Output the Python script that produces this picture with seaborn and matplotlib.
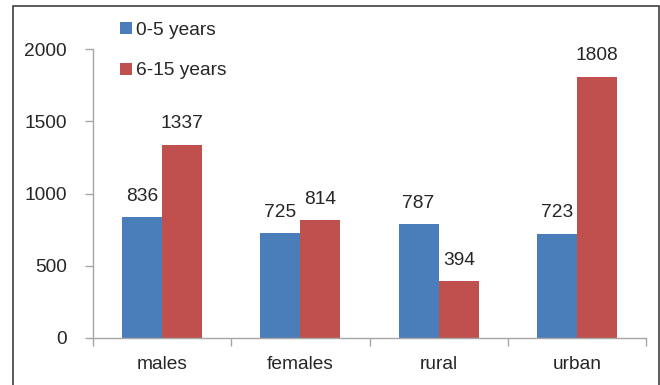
import matplotlib
matplotlib.use("Agg")
import matplotlib.pyplot as plt
from matplotlib.patches import Rectangle
from matplotlib.ticker import FixedLocator
import seaborn as sns
import pandas as pd

categories = ["males", "females", "rural", "urban"]
series_names = ["0-5 years", "6-15 years"]
young = [836, 725, 787, 723]
older = [1337, 814, 394, 1808]
y_ticks = [0, 500, 1000, 1500, 2000]

colors = ["#4A7EBB", "#C0504D"]
text_color = "#262626"
axis_color = "#A6A6A6"
fs = 13.8

df = pd.DataFrame({
    "group": categories * 2,
    "age": [series_names[0]] * len(categories) + [series_names[1]] * len(categories),
    "count": young + older,
})

sns.set_style("white")
plt.rcParams["font.family"] = ["Liberation Sans", "DejaVu Sans"]

fig = plt.figure(figsize=(6.6, 3.85), dpi=100)
ax = fig.add_axes([93 / 660, 1 - 338 / 385, (646 - 93) / 660, (338 - 49) / 385])

sns.barplot(data=df, x="group", y="count", hue="age", order=categories,
            hue_order=series_names, palette=colors, width=0.58, saturation=1,
            linewidth=0, ax=ax, legend=True)

for container in ax.containers:
    ax.bar_label(container, fmt="%d", padding=9, fontsize=fs, color=text_color)

ax.set_xlim(-0.5, len(categories) - 0.5)
ax.set_ylim(0, 2000)
ax.set_yticks(y_ticks)
ax.set_xlabel("")
ax.set_ylabel("")

for side in ("top", "right"):
    ax.spines[side].set_visible(False)
for side in ("left", "bottom"):
    ax.spines[side].set_color(axis_color)
    ax.spines[side].set_linewidth(1)

ax.tick_params(axis="y", which="major", length=6, width=1, color=axis_color,
               pad=13, labelsize=fs, labelcolor=text_color, direction="out", left=True)
ax.tick_params(axis="x", which="major", length=0, pad=13, labelsize=fs,
               labelcolor=text_color)
ax.xaxis.set_minor_locator(FixedLocator([i - 0.5 for i in range(len(categories) + 1)]))
ax.tick_params(axis="x", which="minor", length=6, width=1, color=axis_color,
               direction="out", bottom=True)

ax.legend(loc="upper left", bbox_to_anchor=(120 / 660, 1 - 22 / 385),
          bbox_transform=fig.transFigure, frameon=False, fontsize=fs,
          labelcolor=text_color, handlelength=0.6, handleheight=0.6,
          handletextpad=0.25, labelspacing=1.22, borderpad=0, borderaxespad=0)

fig.patches.append(Rectangle((13 / 660, -0.05), (659 - 13) / 660, 1.05 - 6 / 385,
                             transform=fig.transFigure, fill=False,
                             edgecolor="#404040", linewidth=1.2))

fig.savefig("out.png", dpi=100, facecolor="white")
